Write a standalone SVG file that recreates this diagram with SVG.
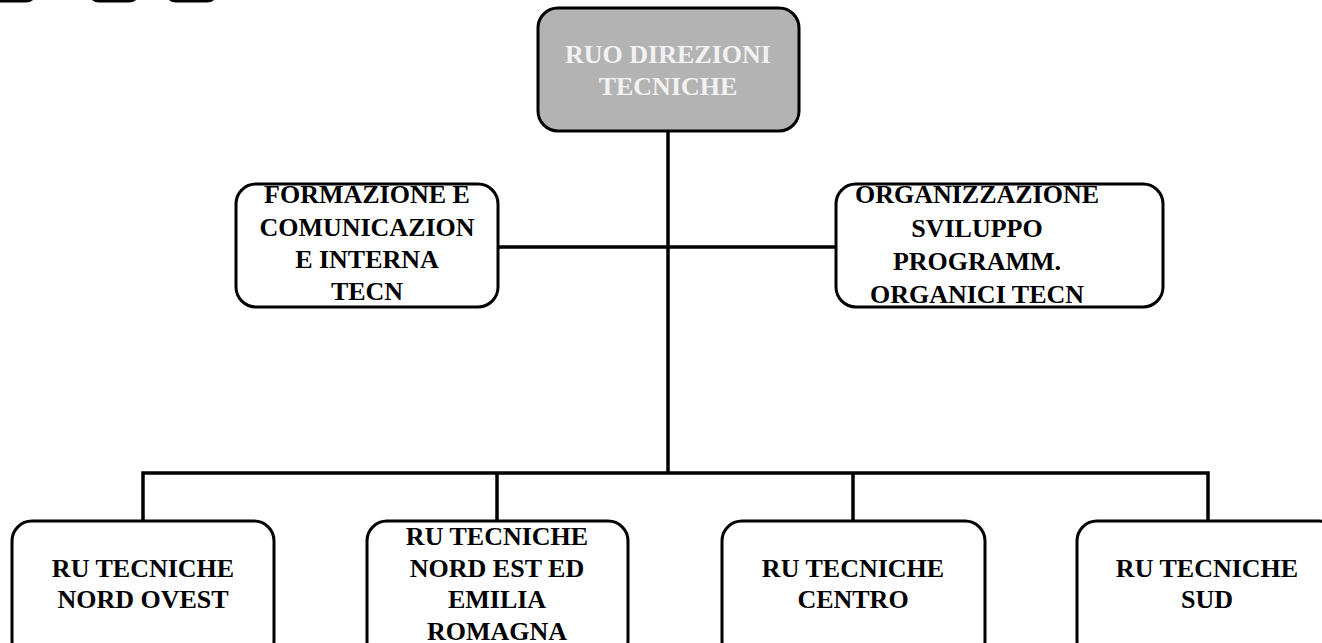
<svg xmlns="http://www.w3.org/2000/svg" width="1322" height="643" viewBox="0 0 1322 643">
<style>
.box{fill:#ffffff;stroke:#000000;stroke-width:3}
.root{fill:#b3b3b3;stroke:#000000;stroke-width:3}
.t{font-family:'Liberation Serif','Times New Roman',Tinos,'DejaVu Serif',serif;font-weight:700;font-size:26px;text-anchor:middle;fill:#000000}
.tw{fill:#f2f2f2}
.c{fill:none;stroke:#000000;stroke-width:3.5}
</style>
<rect width="1322" height="643" fill="#ffffff"/>
<g id="connectors">
<line class="c" x1="668" y1="131" x2="668" y2="473"/>
<line class="c" x1="498" y1="247" x2="836" y2="247"/>
<polyline class="c" points="143,521 143,473 1208,473 1208,521"/>
<line class="c" x1="497" y1="473" x2="497" y2="521"/>
<line class="c" x1="853" y1="473" x2="853" y2="521"/>
</g>
<g id="top-stubs">
<rect class="box" x="-30" y="-40" width="66" height="41" rx="10"/>
<rect class="box" x="89" y="-40" width="50" height="41" rx="10"/>
<rect class="box" x="166" y="-40" width="51" height="41" rx="10"/>
</g>
<g id="ruo">
<rect class="root" x="538" y="8" width="261" height="123" rx="20"/>
<text class="t tw" x="668" y="63">RUO DIREZIONI</text>
<text class="t tw" x="668" y="95">TECNICHE</text>
</g>
<g id="formazione">
<rect class="box" x="236" y="184" width="262" height="123" rx="20"/>
<text class="t" x="367" y="203">FORMAZIONE E</text>
<text class="t" x="367" y="236">COMUNICAZION</text>
<text class="t" x="367" y="268">E INTERNA</text>
<text class="t" x="367" y="300">TECN</text>
</g>
<g id="organizzazione">
<rect class="box" x="836" y="184" width="327" height="123" rx="20"/>
<text class="t" x="977" y="203">ORGANIZZAZIONE</text>
<text class="t" x="977" y="237">SVILUPPO</text>
<text class="t" x="977" y="270">PROGRAMM.</text>
<text class="t" x="977" y="303">ORGANICI TECN</text>
</g>
<g id="nord-ovest">
<rect class="box" x="12" y="521" width="262" height="140" rx="20"/>
<text class="t" x="143" y="577">RU TECNICHE</text>
<text class="t" x="143" y="608">NORD OVEST</text>
</g>
<g id="nord-est">
<rect class="box" x="367" y="521" width="261" height="140" rx="20"/>
<text class="t" x="497" y="545">RU TECNICHE</text>
<text class="t" x="497" y="577">NORD EST ED</text>
<text class="t" x="497" y="608">EMILIA</text>
<text class="t" x="497" y="640">ROMAGNA</text>
</g>
<g id="centro">
<rect class="box" x="722" y="521" width="263" height="140" rx="20"/>
<text class="t" x="853" y="577">RU TECNICHE</text>
<text class="t" x="853" y="608">CENTRO</text>
</g>
<g id="sud">
<rect class="box" x="1077" y="521" width="262" height="140" rx="20"/>
<text class="t" x="1207" y="577">RU TECNICHE</text>
<text class="t" x="1207" y="608">SUD</text>
</g>
</svg>
